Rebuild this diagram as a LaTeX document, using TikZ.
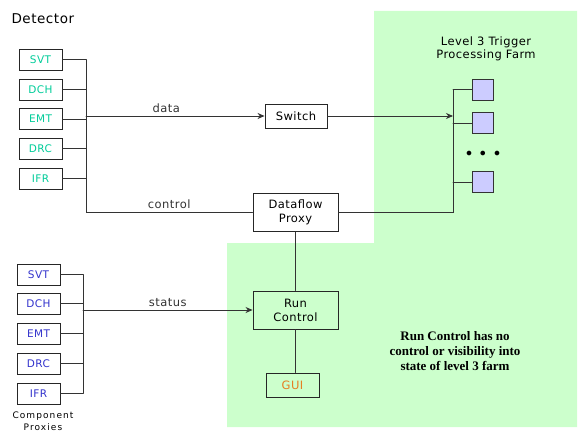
\documentclass[tikz,border=0pt]{standalone}
\usepackage{fontspec}
\setmainfont{DejaVu Sans}[LetterSpace=4]
\newfontfamily\widefont{DejaVu Sans}[LetterSpace=12]
\newfontfamily\notefont{Liberation Serif}
\usepackage{tikz}
\usetikzlibrary{arrows.meta}
\usepackage{xcolor}
\definecolor{farmgreen}{HTML}{CCFFCC}
\definecolor{detteal}{HTML}{00CC99}
\definecolor{proxyblue}{HTML}{3333CC}
\definecolor{guiorange}{HTML}{E67E22}
\definecolor{cpulilac}{HTML}{CCCCFF}

\begin{document}
\begin{tikzpicture}[x=1pt,y=-1pt,>={Stealth[length=7pt,width=6pt]},line cap=round,
  box/.style={draw=black!85,line width=0.9pt,inner sep=0pt,align=center,font=\fontsize{11.5}{14}\selectfont},
  subsys/.style={box,minimum width=43pt,minimum height=21pt,font=\fontsize{10.5}{12}\selectfont},
  cpu/.style={draw=black!80,line width=0.8pt,fill=cpulilac,minimum size=21pt,inner sep=0pt},
  wire/.style={black!80,line width=0.8pt},
  lbl/.style={font=\fontsize{11.5}{12}\selectfont}]
\useasboundingbox (0,0) rectangle (578,433);
\fill[farmgreen] (374,11) -- (577,11) -- (577,427) -- (227,427) -- (227,243) -- (374,243) -- cycle;

\node[anchor=west,font=\fontsize{13.5}{15}\selectfont] (det) at (8,19) {Detector};
\node[subsys,text=detteal] (svt) at (40.5,59.5) {SVT};
\node[subsys,text=detteal] (dch) at (40.5,89.5) {DCH};
\node[subsys,text=detteal] (emt) at (40.5,119) {EMT};
\node[subsys,text=detteal] (drc) at (40.5,148.5) {DRC};
\node[subsys,text=detteal] (ifr) at (40.5,178.5) {IFR};
\coordinate (dbus) at (86,0);

\node[box,minimum width=62pt,minimum height=24pt] (sw) at (296,116) {Switch};
\node[box,minimum width=85pt,minimum height=38pt] (dfp) at (295.5,212.5) {Dataflow\\Proxy};
\node[box,minimum width=85pt,minimum height=38pt] (rc) at (295.5,310) {Run\\Control};
\node[box,minimum width=53pt,minimum height=24pt,text=guiorange] (gui) at (292.5,385) {GUI};

\node[align=center,font=\fontsize{11.5}{13.5}\selectfont] (farm) at (486,49) {Level 3 Trigger\\Processing Farm};
\node[cpu] (f1) at (483,89.5) {};
\node[cpu] (f2) at (483,123) {};
\node[cpu] (f3) at (483,182) {};
\node[font=\fontsize{12}{12}\selectfont] (dots) at (483,154) {$\bullet\;\,\bullet\;\,\bullet$};
\coordinate (fbus) at (453,0);

\node[subsys,text=proxyblue] (psvt) at (38.5,274.5) {SVT};
\node[subsys,text=proxyblue] (pdch) at (38.5,303.5) {DCH};
\node[subsys,text=proxyblue] (pemt) at (38.5,333.5) {EMT};
\node[subsys,text=proxyblue] (pdrc) at (38.5,363.5) {DRC};
\node[subsys,text=proxyblue] (pifr) at (38.5,393.5) {IFR};
\node[align=center,font=\widefont\fontsize{9}{12}\selectfont] (cprox) at (43,421) {Component\\Proxies};
\coordinate (pbus) at (83,0);

\node[align=center,font=\notefont\bfseries\fontsize{13}{15}\selectfont] (note) at (455,351) {Run Control has no\\control or visibility into\\state of level 3 farm};

% detector readout
\draw[wire] (svt.east) -- (svt.east -| dbus);
\draw[wire] (dch.east) -- (dch.east -| dbus);
\draw[wire] (emt.east) -- (emt.east -| dbus);
\draw[wire] (drc.east) -- (drc.east -| dbus);
\draw[wire] (ifr.east) -- (ifr.east -| dbus);
\draw[wire] (svt.east -| dbus) |- (dfp.west) node[lbl,above,pos=0.75] {control};
\draw[wire,->] (dbus |- sw.west) -- (sw.west) node[lbl,above,pos=0.45] {data};
\draw[wire,->] (sw.east) -- (fbus |- sw.east);

% farm
\draw[wire] (dfp.east) -| (fbus |- f1.west);
\draw[wire] (fbus |- f1.west) -- (f1.west);
\draw[wire] (fbus |- f2.west) -- (f2.west);
\draw[wire] (fbus |- f3.west) -- (f3.west);

% run control
\draw[wire] (dfp.south) -- (rc.north);
\draw[wire] (rc.south) -- (rc.south |- gui.north);
\draw[wire] (psvt.east) -- (psvt.east -| pbus);
\draw[wire] (pdch.east) -- (pdch.east -| pbus);
\draw[wire] (pemt.east) -- (pemt.east -| pbus);
\draw[wire] (pdrc.east) -- (pdrc.east -| pbus);
\draw[wire] (pifr.east) -- (pifr.east -| pbus);
\draw[wire] (psvt.east -| pbus) -- (pifr.east -| pbus);
\draw[wire,->] (pbus |- rc.west) -- (rc.west) node[lbl,above,pos=0.5] {status};
\end{tikzpicture}
\end{document}
